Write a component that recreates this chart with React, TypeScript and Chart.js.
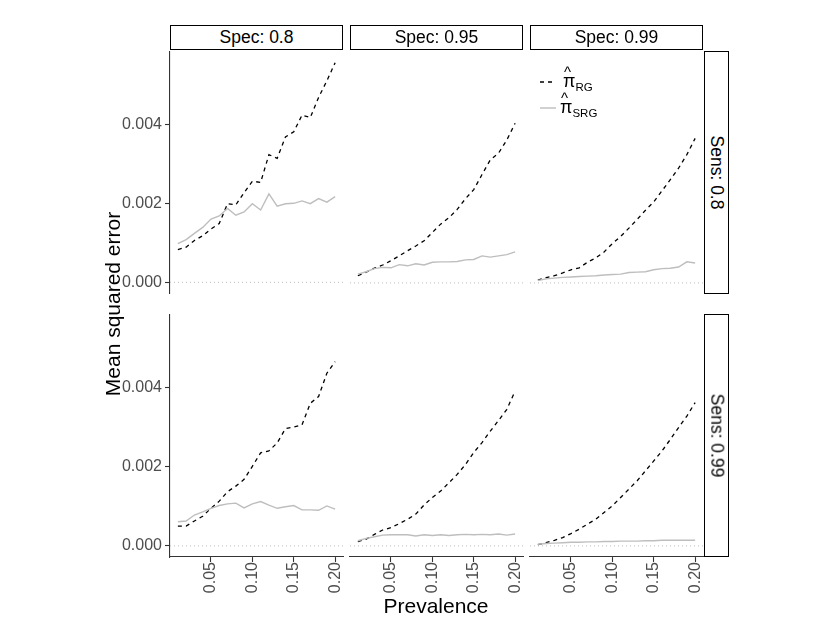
import { useEffect, useRef } from "react";
import { Chart, registerables } from "chart.js";

Chart.register(...registerables);

const FONT = '"Liberation Sans", Arial, sans-serif';

// prevalence grid (x)
const prevalence = [
  0.01, 0.02, 0.03, 0.04, 0.05, 0.06, 0.07, 0.08, 0.09, 0.1,
  0.11, 0.12, 0.13, 0.14, 0.15, 0.16, 0.17, 0.18, 0.19, 0.2,
];
const specLabels = ["Spec: 0.8", "Spec: 0.95", "Spec: 0.99"];
const sensLabels = ["Sens: 0.8", "Sens: 0.99"];
const xTicks = [0.05, 0.1, 0.15, 0.2];
const yTicks = [0, 0.002, 0.004];

// Sens 0.8
const rgSens80Spec80 = [0.00083, 0.00089, 0.00106, 0.00118, 0.00135, 0.00149, 0.00199, 0.00196, 0.00227, 0.00256, 0.00253, 0.00323, 0.00314, 0.00368, 0.00381, 0.00423, 0.00417, 0.00468, 0.0051, 0.00556];
const srgSens80Spec80 = [0.00098, 0.00108, 0.00124, 0.00139, 0.0016, 0.00168, 0.00187, 0.0017, 0.00178, 0.00199, 0.00183, 0.00224, 0.00193, 0.00199, 0.002, 0.00206, 0.00199, 0.00212, 0.00203, 0.00217];
const rgSens80Spec95 = [0.00018, 0.00027, 0.00037, 0.00045, 0.00056, 0.00068, 0.00081, 0.00093, 0.00106, 0.00127, 0.00148, 0.00164, 0.00185, 0.00212, 0.00235, 0.00273, 0.0031, 0.00327, 0.0036, 0.00402];
const srgSens80Spec95 = [0.00022, 0.00028, 0.00036, 0.00039, 0.00038, 0.00046, 0.00043, 0.00048, 0.00045, 0.00052, 0.00053, 0.00053, 0.00054, 0.00058, 0.00059, 0.00068, 0.00065, 0.00068, 0.00071, 0.00078];
const rgSens80Spec99 = [0.00007, 0.00013, 0.00018, 0.00025, 0.00033, 0.00038, 0.00052, 0.00063, 0.00078, 0.00099, 0.00117, 0.00138, 0.0016, 0.00183, 0.00204, 0.00232, 0.0026, 0.00289, 0.00323, 0.00364];
const srgSens80Spec99 = [0.00006, 0.0001, 0.00012, 0.00014, 0.00015, 0.00016, 0.00017, 0.00018, 0.0002, 0.00021, 0.00022, 0.00026, 0.00027, 0.00028, 0.00033, 0.00036, 0.00037, 0.0004, 0.00053, 0.0005];

// Sens 0.99
const rgSens99Spec80 = [0.0005, 0.0005, 0.00063, 0.00075, 0.00095, 0.00113, 0.00137, 0.00151, 0.00168, 0.00201, 0.00235, 0.0024, 0.0026, 0.00296, 0.003, 0.00306, 0.0036, 0.00377, 0.00436, 0.00465];
const srgSens99Spec80 = [0.00061, 0.00063, 0.00078, 0.00086, 0.00095, 0.00102, 0.00106, 0.00108, 0.00096, 0.00106, 0.00112, 0.00103, 0.00095, 0.00099, 0.00102, 0.00091, 0.00091, 0.0009, 0.00101, 0.00093];
const rgSens99Spec95 = [0.00011, 0.00017, 0.00029, 0.0004, 0.00046, 0.00056, 0.00067, 0.0008, 0.00103, 0.00122, 0.00138, 0.00159, 0.0018, 0.00205, 0.00235, 0.0026, 0.00289, 0.00316, 0.00344, 0.0039];
const srgSens99Spec95 = [0.00013, 0.00019, 0.00023, 0.00027, 0.00028, 0.00028, 0.00028, 0.00025, 0.00028, 0.00026, 0.00028, 0.00026, 0.00028, 0.00029, 0.00028, 0.00029, 0.00028, 0.0003, 0.00027, 0.0003];
const rgSens99Spec99 = [0.00003, 0.00008, 0.00014, 0.00021, 0.00031, 0.00042, 0.00055, 0.00067, 0.00084, 0.00101, 0.00122, 0.00143, 0.00164, 0.00189, 0.00214, 0.00239, 0.00268, 0.00298, 0.00327, 0.00361];
const srgSens99Spec99 = [0.00004, 0.00006, 0.00007, 0.00008, 0.00009, 0.00009, 0.0001, 0.0001, 0.00011, 0.00011, 0.00012, 0.00012, 0.00012, 0.00013, 0.00013, 0.00014, 0.00014, 0.00014, 0.00014, 0.00014];

const rgRows = [
  [rgSens80Spec80, rgSens80Spec95, rgSens80Spec99],
  [rgSens99Spec80, rgSens99Spec95, rgSens99Spec99],
];
const srgRows = [
  [srgSens80Spec80, srgSens80Spec95, srgSens80Spec99],
  [srgSens99Spec80, srgSens99Spec95, srgSens99Spec99],
];

// panel geometry (page px)
const colLeft = [170, 350, 530];
const rowTop = [51, 314];
const PW = 173;
const PH = 243;
const PAD = 12;
const YAXIS_W = 70;
const XAXIS_H = 45;

// dotted reference line at y = 0, under the data
const zeroLine = {
  id: "zeroLine",
  beforeDatasetsDraw(chart: any) {
    const { ctx, chartArea, scales } = chart;
    const y = scales.y.getPixelForValue(0);
    ctx.save();
    ctx.strokeStyle = "#bdbdbd";
    ctx.lineWidth = 1;
    ctx.setLineDash([1, 3]);
    ctx.beginPath();
    ctx.moveTo(chartArea.left, y);
    ctx.lineTo(chartArea.right, y);
    ctx.stroke();
    ctx.restore();
  },
};

function Panel({ row, col }: { row: number; col: number }) {
  const canvasRef = useRef<HTMLCanvasElement | null>(null);
  const showY = col === 0;
  const showX = row === 1;
  const left = colLeft[col] - (showY ? YAXIS_W : PAD);
  const top = rowTop[row] - PAD;
  const width = PW + (showY ? YAXIS_W : PAD) + PAD;
  const height = PH + PAD + (showX ? XAXIS_H : PAD);

  useEffect(() => {
    if (!canvasRef.current) return;
    const toPts = (arr: number[]) => prevalence.map((x, i) => ({ x, y: arr[i] }));
    const tickFont = { family: FONT, size: 16 };
    const chart = new Chart(canvasRef.current, {
      type: "line",
      data: {
        datasets: [
          {
            data: toPts(srgRows[row][col]),
            borderColor: "#bebebe",
            borderWidth: 1.4,
            pointRadius: 0,
            tension: 0,
          },
          {
            data: toPts(rgRows[row][col]),
            borderColor: "#000000",
            borderWidth: 1.3,
            borderDash: [4, 4],
            pointRadius: 0,
            tension: 0,
          },
        ],
      },
      options: {
        animation: false,
        responsive: false,
        maintainAspectRatio: false,
        layout: {
          padding: {
            top: PAD,
            right: PAD,
            left: showY ? 0 : PAD,
            bottom: showX ? 0 : PAD,
          },
        },
        plugins: { legend: { display: false }, tooltip: { enabled: false } },
        scales: {
          x: {
            type: "linear",
            min: 0.0005,
            max: 0.2095,
            display: showX,
            afterBuildTicks: (s: any) => {
              s.ticks = xTicks.map((v) => ({ value: v }));
            },
            afterFit: (s: any) => {
              if (showX) s.height = XAXIS_H;
            },
            ticks: {
              color: "#4d4d4d",
              font: tickFont,
              minRotation: 90,
              maxRotation: 90,
              padding: 0,
              callback: (v: any) => Number(v).toFixed(2),
            },
            grid: { drawOnChartArea: false, tickLength: 5, color: "#333333", tickWidth: 1.1 },
            border: { display: true, color: "#333333", width: 1.1 },
          },
          y: {
            type: "linear",
            min: -0.00028,
            max: 0.00584,
            display: showY,
            afterBuildTicks: (s: any) => {
              s.ticks = yTicks.map((v) => ({ value: v }));
            },
            afterFit: (s: any) => {
              if (showY) s.width = YAXIS_W;
            },
            ticks: {
              color: "#4d4d4d",
              font: tickFont,
              padding: 3,
              callback: (v: any) => Number(v).toFixed(3),
            },
            grid: { drawOnChartArea: false, tickLength: 5, color: "#333333", tickWidth: 1.1 },
            border: { display: true, color: "#333333", width: 1.1 },
          },
        },
      },
      plugins: [zeroLine],
    });
    return () => chart.destroy();
  }, [row, col]);

  return (
    <canvas
      ref={canvasRef}
      width={width}
      height={height}
      style={{ position: "absolute", left, top, width, height }}
    />
  );
}

function PiHat({ sub }: { sub: string }) {
  return (
    <span style={{ display: "inline-flex", alignItems: "baseline" }}>
      <span style={{ position: "relative", fontSize: 18 }}>
        π
        <span style={{ position: "absolute", left: 1, top: -8, fontSize: 15 }}>^</span>
      </span>
      <span style={{ fontSize: 11.5, position: "relative", top: 4 }}>{sub}</span>
    </span>
  );
}

export default function App() {
  const strip: React.CSSProperties = {
    position: "absolute",
    boxSizing: "border-box",
    border: "1.5px solid #000",
    background: "#fff",
    display: "flex",
    alignItems: "center",
    justifyContent: "center",
    fontSize: 17.5,
    color: "#000",
    whiteSpace: "nowrap",
  };
  const panels = [];
  for (let r = 0; r < 2; r++) for (let c = 0; c < 3; c++) panels.push(<Panel key={`${r}-${c}`} row={r} col={c} />);

  return (
    <div
      style={{
        position: "fixed",
        left: 0,
        top: 0,
        width: 830,
        height: 642,
        background: "#fff",
        fontFamily: FONT,
        overflow: "hidden",
      }}
    >
      {panels}
      {specLabels.map((t, i) => (
        <div key={t} style={{ ...strip, left: colLeft[i], top: 25, width: PW, height: 25 }}>
          {t}
        </div>
      ))}
      {sensLabels.map((t, i) => (
        <div key={t} style={{ ...strip, left: 704, top: rowTop[i], width: 25, height: PH }}>
          <span style={{ transform: "rotate(90deg)" }}>{t}</span>
        </div>
      ))}
      <div
        style={{
          position: "absolute",
          left: 113 - 150,
          top: 304 - 14,
          width: 300,
          height: 28,
          textAlign: "center",
          transform: "rotate(-90deg)",
          fontSize: 21,
          color: "#000",
          lineHeight: "28px",
        }}
      >
        Mean squared error
      </div>
      <div
        style={{
          position: "absolute",
          left: 436 - 150,
          top: 592,
          width: 300,
          textAlign: "center",
          fontSize: 21,
          color: "#000",
          lineHeight: "28px",
        }}
      >
        Prevalence
      </div>
      {/* legend */}
      <div style={{ position: "absolute", left: 538, top: 70, color: "#000" }}>
        <div style={{ position: "relative", height: 26 }}>
          <svg width={16} height={4} style={{ position: "absolute", left: 2, top: 10 }}>
            <line x1={0} y1={2} x2={16} y2={2} stroke="#000" strokeWidth={1.3} strokeDasharray="4 4" />
          </svg>
          <div style={{ position: "absolute", left: 25, top: 1 }}>
            <PiHat sub="RG" />
          </div>
        </div>
        <div style={{ position: "relative", height: 26 }}>
          <svg width={16} height={4} style={{ position: "absolute", left: 2, top: 10 }}>
            <line x1={0} y1={2} x2={16} y2={2} stroke="#bebebe" strokeWidth={1.4} />
          </svg>
          <div style={{ position: "absolute", left: 22, top: 1 }}>
            <PiHat sub="SRG" />
          </div>
        </div>
      </div>
    </div>
  );
}
